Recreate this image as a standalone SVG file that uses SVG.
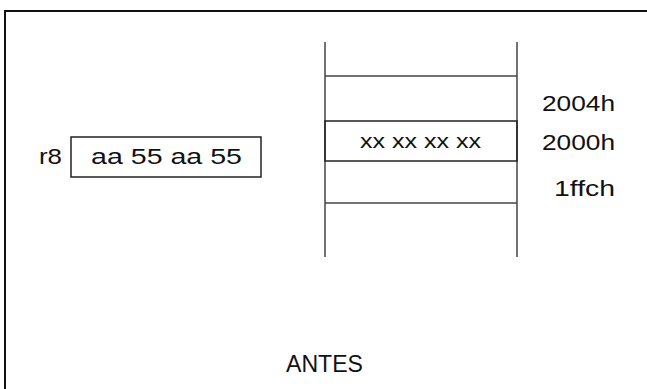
<svg xmlns="http://www.w3.org/2000/svg" width="647" height="389" viewBox="0 0 647 389">
<style>
.t{font-family:"Liberation Sans",Arial,sans-serif;fill:#111;}
.ln{stroke:#444;stroke-width:1.5;fill:none;}
.bx{stroke:#222;stroke-width:1.5;fill:none;}
</style>
<rect x="0" y="0" width="647" height="389" fill="#fff"/>
<g id="frame"><rect x="5" y="11" width="700" height="500" fill="none" stroke="#111" stroke-width="2"/></g>
<g id="register">
<text class="t" x="39" y="164" font-size="22" textLength="23" lengthAdjust="spacingAndGlyphs">r8</text>
<rect class="bx" x="71" y="137" width="190" height="40"/>
<text class="t" x="91" y="164" font-size="22" textLength="151" lengthAdjust="spacingAndGlyphs">aa 55 aa 55</text>
</g>
<g id="memory">
<line class="ln" x1="325" y1="42" x2="325" y2="257"/>
<line class="ln" x1="517" y1="42" x2="517" y2="257"/>
<line class="ln" x1="325" y1="76" x2="517" y2="76"/>
<line class="ln" x1="325" y1="203" x2="517" y2="203"/>
</g>
<g id="cell2000">
<rect class="bx" x="325" y="121" width="192" height="40"/>
<text class="t" x="360" y="148" font-size="20" textLength="121" lengthAdjust="spacingAndGlyphs">xx xx xx xx</text>
</g>
<g id="labels">
<text class="t" x="542" y="111" font-size="22" textLength="73" lengthAdjust="spacingAndGlyphs">2004h</text>
<text class="t" x="542" y="150" font-size="22" textLength="73" lengthAdjust="spacingAndGlyphs">2000h</text>
<text class="t" x="554" y="196" font-size="22" textLength="61" lengthAdjust="spacingAndGlyphs">1ffch</text>
</g>
<g id="caption">
<text class="t" x="286" y="372" font-size="24" textLength="77" lengthAdjust="spacingAndGlyphs">ANTES</text>
</g>
</svg>
